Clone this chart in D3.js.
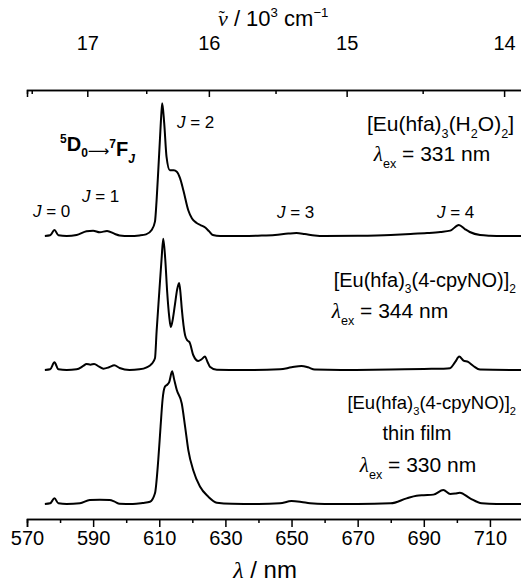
<!DOCTYPE html>
<html>
<head>
<meta charset="utf-8">
<script src="https://cdnjs.cloudflare.com/ajax/libs/d3/7.8.5/d3.min.js"></script>
<style>
body { margin: 0; background: #fff; }
svg { display: block; font-family: "Liberation Sans", Arial, sans-serif; }
.axis path, .axis line { stroke: #000; stroke-width: 1.5; }
.axis text { fill: #000; font-family: "Liberation Sans", Arial, sans-serif; }
</style>
</head>
<body>
<svg id="chart" width="521" height="586"></svg>
<script>
// wavelength (nm) / normalised intensity
var wlH2O  = [575.4, 577, 578.3, 579.5, 582, 585, 588, 590, 592, 594.2, 596.6, 598, 601, 604, 606, 607.7, 608.7, 609.2, 609.7, 610.2, 610.6, 610.9, 611.5, 612.2, 613.2, 614.4, 615.3, 616.3, 617.3, 618.8, 619.9, 621.3, 622.6, 623.8, 625, 626.2, 628.4, 635, 641, 645, 649, 651.5, 654, 657, 660, 670, 680, 686, 691, 695, 698, 700.6, 702.4, 703.9, 707, 710, 714, 719.5];
var intH2O = [0, 0.005, 0.045, 0.005, 0, 0.008, 0.035, 0.04, 0.028, 0.037, 0.015, 0.004, 0, 0.004, 0.012, 0.045, 0.107, 0.27, 0.49, 0.72, 0.9, 0.99, 0.84, 0.59, 0.49, 0.49, 0.48, 0.43, 0.34, 0.19, 0.13, 0.097, 0.08, 0.065, 0.037, 0.007, 0, 0, 0.003, 0.008, 0.018, 0.022, 0.015, 0.004, 0, 0.002, 0.008, 0.015, 0.022, 0.03, 0.04, 0.082, 0.052, 0.03, 0.007, 0.002, 0, 0];

var wlCpy  = [575.4, 577, 578.3, 579.5, 582, 585, 587, 588, 589.2, 590.3, 591.8, 593.1, 594.8, 596.4, 598, 601, 604, 606.2, 607.7, 608.7, 609.2, 610, 610.7, 611.2, 611.8, 612.4, 613, 613.5, 614.1, 614.75, 615.4, 616, 616.4, 616.8, 617.8, 618.5, 619.1, 620.3, 621.8, 622.8, 623.8, 624.6, 625.3, 627.4, 635, 646.5, 650, 653, 655, 657, 665, 680, 690, 696, 697.9, 699.5, 700.7, 702, 703.4, 705, 707, 719.5];
var intCpy = [0, 0.005, 0.057, 0.005, 0, 0.005, 0.03, 0.045, 0.04, 0.045, 0.025, 0.01, 0.02, 0.035, 0.015, 0, 0.005, 0.02, 0.045, 0.087, 0.29, 0.58, 0.83, 0.98, 0.83, 0.58, 0.4, 0.32, 0.38, 0.49, 0.6, 0.65, 0.58, 0.46, 0.26, 0.22, 0.21, 0.11, 0.067, 0.08, 0.1, 0.06, 0.025, 0.002, 0, 0.005, 0.02, 0.03, 0.02, 0.003, 0, 0.003, 0.008, 0.01, 0.013, 0.06, 0.1, 0.07, 0.06, 0.03, 0.003, 0];

var wlFilm  = [575.4, 577, 578.3, 579.5, 582, 586, 589, 592, 595, 596.5, 598, 602, 605, 607.2, 608.7, 609.7, 610.4, 611, 611.7, 612.4, 613, 613.9, 614.5, 615.3, 616.8, 617.8, 618.8, 620.3, 622.3, 624.8, 627.4, 632, 640, 646.5, 650, 653, 655.6, 660, 670, 680, 684.8, 687.8, 690, 692.9, 695.9, 698, 699.5, 700.9, 704, 707.5, 712, 719.5];
var intFilm = [0, 0.005, 0.042, 0.005, 0, 0.005, 0.03, 0.032, 0.03, 0.018, 0.002, 0, 0.008, 0.017, 0.08, 0.33, 0.58, 0.78, 0.875, 0.89, 0.91, 0.99, 0.93, 0.85, 0.75, 0.58, 0.4, 0.25, 0.13, 0.055, 0.01, 0.002, 0, 0.005, 0.022, 0.015, 0.005, 0, 0, 0.005, 0.042, 0.062, 0.066, 0.07, 0.104, 0.075, 0.078, 0.084, 0.042, 0.005, 0, 0];

var stackOffsets = [2, 1, 0];   // top, middle, bottom trace

var nmMajor = [570, 590, 610, 630, 650, 670, 690, 710];
var nmMinor = [580, 600, 620, 640, 660, 680, 700, 720];
var nuMajor = [17, 16, 15, 14];          // 10^3 cm-1
var nuMinor = [17.5, 16.5, 15.5, 14.5];

var svg = d3.select("#chart");

var x = d3.scaleLinear().domain([570, 720]).range([27, 523]);
var y = d3.scaleLinear().domain([0, 3]).range([504, 102]);

// bottom axis (nm)
svg.append("g").attr("class", "axis")
   .attr("transform", "translate(0,519)")
   .call(d3.axisBottom(x).tickValues(nmMinor).tickSize(4).tickFormat(""));
svg.append("g").attr("class", "axis")
   .attr("transform", "translate(0,519)")
   .call(d3.axisBottom(x).tickValues(nmMajor).tickSize(8).tickPadding(4))
   .selectAll("text").attr("font-size", 20);

// top axis (wavenumber), positions from lambda = 10^4 / nu
function nuToNm(n) { return 1e4 / n; }
svg.append("g").attr("class", "axis")
   .attr("transform", "translate(0,90)")
   .call(d3.axisTop(x).tickValues(nuMinor.map(nuToNm)).tickSize(-4).tickFormat(""));
svg.append("g").attr("class", "axis")
   .attr("transform", "translate(0,90)")
   .call(d3.axisTop(x).tickValues(nuMajor.map(nuToNm)).tickSize(-7).tickPadding(40)
        .tickFormat(function(d, i) { return nuMajor[i]; }))
   .selectAll("text").attr("font-size", 20);

// spectra
var traces = [
  { wl: wlH2O, val: intH2O },
  { wl: wlCpy, val: intCpy },
  { wl: wlFilm, val: intFilm }
];
traces.forEach(function(t, k) {
  var pts = t.wl.map(function(w, i) { return [w, t.val[i]]; });
  var line = d3.line()
      .x(function(d) { return x(d[0]); })
      .y(function(d) { return y(d[1] + stackOffsets[k]); })
      .curve(d3.curveMonotoneX);
  svg.append("path")
     .datum(pts)
     .attr("d", line)
     .attr("fill", "none")
     .attr("stroke", "#000")
     .attr("stroke-width", 2)
     .attr("stroke-linejoin", "round");
});

// text with sub / superscripts; parts = [text, "sub"|"sup"|null, style]
function rich(px, py, size, anchor, parts) {
  var t = svg.append("text").attr("x", px).attr("y", py)
     .attr("font-size", size).attr("text-anchor", anchor).attr("fill", "#000");
  var shift = 0;
  parts.forEach(function(p) {
    var s = p[1] === "sub" ? size * 0.32 : (p[1] === "sup" ? -size * 0.42 : 0);
    var ts = t.append("tspan").attr("dy", s - shift).text(p[0]);
    if (p[1]) ts.attr("font-size", size * 0.6);
    var st = p[2] || {};
    for (var k in st) ts.attr(k, st[k]);
    shift = s;
  });
  return t;
}
var ital = { "font-style": "italic" };
var lam = { "font-style": "italic", "font-family": "Liberation Serif, serif" };

// axis titles (tilde over nu kept inside the same text)
rich(218, 26, 22, "start", [
  ["\u03bd", null, lam],
  ["\u02dc", null, { "font-family": "Liberation Serif, serif", "font-size": 18, "dx": -9, "dy": -2 }],
  [" / 10", null, { "dx": 3, "dy": 2 }],
  ["3", "sup"], [" cm", null], ["\u22121", "sup"]
]);
rich(265, 578, 24, "middle", [["\u03bb", null, lam], [" / nm", null]]);

// transition label
rich(60, 151, 20, "start", [
  ["5", "sup", { "font-weight": "bold" }], ["D", null, { "font-weight": "bold" }],
  ["0", "sub", { "font-weight": "bold" }],
  ["\u27f6", null, { "font-size": 15, "font-family": "DejaVu Sans, sans-serif", "dy": -1 }],
  ["7", "sup", { "font-weight": "bold" }], ["F", null, { "font-weight": "bold" }],
  ["J", "sub", { "font-weight": "bold", "font-style": "italic" }]
]);

// J labels
var jLabels = [["0", 33, 217], ["1", 82, 202], ["2", 177, 128], ["3", 277, 218], ["4", 437, 218]];
jLabels.forEach(function(j) {
  rich(j[1], j[2], 17, "start", [["J", null, ital], [" = " + j[0], null]]);
});

// compound labels
rich(514, 131, 21, "end", [["[Eu(hfa)", null], ["3", "sub"], ["(H", null], ["2", "sub"], ["O)", null], ["2", "sub"], ["]", null]]);
rich(432, 161, 21, "middle", [["\u03bb", null, lam], ["ex", "sub"], [" = 331 nm", null]]);

rich(516, 287, 20, "end", [["[Eu(hfa)", null], ["3", "sub"], ["(4-cpyNO)]", null], ["2", "sub"]]);
rich(390, 318, 21, "middle", [["\u03bb", null, lam], ["ex", "sub"], [" = 344 nm", null]]);

rich(516, 409, 18.5, "end", [["[Eu(hfa)", null], ["3", "sub"], ["(4-cpyNO)]", null], ["2", "sub"]]);
rich(417, 440, 20, "middle", [["thin film", null]]);
rich(418, 472, 21, "middle", [["\u03bb", null, lam], ["ex", "sub"], [" = 330 nm", null]]);
</script>
</body>
</html>
